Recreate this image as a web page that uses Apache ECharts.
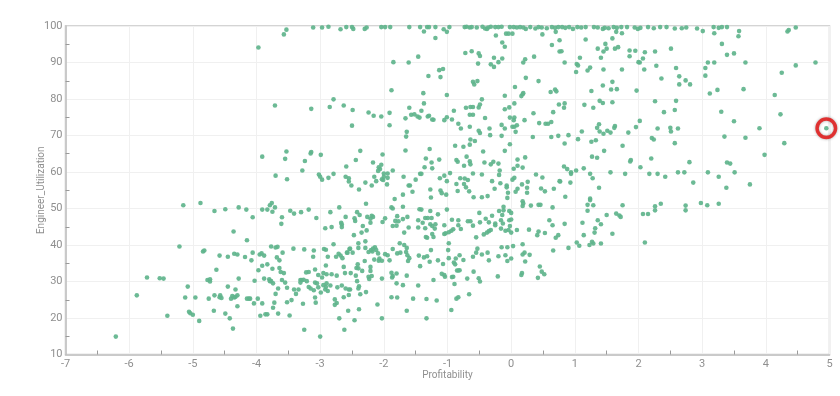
<!DOCTYPE html>
<html><head><meta charset="utf-8">
<style>html,body{margin:0;padding:0;background:#fff}#c{width:840px;height:396px}</style>
<script src="https://cdn.jsdelivr.net/npm/echarts@6/dist/echarts.min.js"></script>
</head><body><div id="c"></div>
<script>
const xTitle = 'Profitability';
const yTitle = 'Engineer_Utilization';
const highlighted = [[4.95,72]];
const pointsFarLeft = [
[-6.21,14.9],[-5.88,26.2],[-5.72,31.1],[-5.52,30.9],[-5.46,30.8],[-5.40,20.6],[-5.21,39.6],[-5.15,50.9],[-4.88,51.5],[-4.66,49.3],[-4.49,49.8],[-4.28,50.3],[-4.16,49.7],[-4.06,47.6],[-4.36,43.7],[-4.15,41.3],[-5.08,28.6],[-5.12,25.6],[-4.96,25.6],[-5.06,21.7],[-5.04,21.3],[-5.0,20.9],[-4.90,19.2],[-4.84,38.2],[-4.82,38.5],[-4.58,37.1],[-4.45,36.8],[-4.35,37.6],[-4.30,37.4],[-4.18,36.7],[-4.06,37.9],[-4.08,35.8],[-4.63,33.2],[-4.77,30.4],[-4.73,30.6],[-4.73,30.0],[-4.28,30.8],[-4.03,30.2],[-4.75,25.3],[-4.66,26.2],[-4.57,26.2],[-4.58,25.7],[-4.55,25.5],[-4.67,22.0],[-4.45,28.6],[-4.33,27.8],[-4.49,21.2],[-4.42,19.9],[-4.37,17.1],[-4.40,25.3],[-4.38,26.0],[-4.35,25.6],[-4.33,25.8],[-4.30,26.2],[-4.30,23.2],[-4.15,25.3],[-4.12,25.3],[-4.10,25.3],[-4.04,24.0],[-3.98,25.3],[-3.94,20.6],[-3.91,24.0],[-3.86,21.0],[-3.83,21.0],[-3.74,22.8],[-3.72,24.2],[-3.70,26.6],[-3.66,28.1],[-3.66,21.2],[-3.91,49.7],[-3.83,49.7],[-3.75,49.1],[-3.71,50.3],[-3.79,50.9],[-3.76,51.5],[-3.97,33.1],[-3.91,34.3],[-3.83,34.7],[-3.75,33.5],[-3.88,30.8],[-3.80,30.6],[-3.79,30.1],[-3.77,30.1],[-3.74,29.5],[-3.95,37.4],[-3.92,37.7],[-3.88,37.1],[-3.77,39.6],[-3.70,39.3],[-3.67,39.5],[-3.68,36.6],[-3.64,35.8],[-3.64,33.7],[-3.97,94.1],[-3.71,78.2],[-3.91,64.2],[-3.70,59.0]
];
const pointsLowerMiddle = [
[-3.47,49.4],[-3.41,48.6],[-3.30,49.0],[-3.18,49.7],[-2.70,50.3],[-2.28,51.3],[-3.60,47.6],[-3.61,45.8],[-3.06,47.4],[-2.84,49.0],[-2.60,47.7],[-2.92,44.6],[-2.82,44.9],[-2.67,46.1],[-2.66,45.6],[-2.66,44.9],[-2.46,47.3],[-2.45,46.6],[-2.42,49.0],[-2.38,48.2],[-2.33,45.2],[-2.27,44.0],[-2.35,43.4],[-2.47,42.7],[-2.26,47.7],[-2.21,47.2],[-2.19,48.0],[-2.17,47.7],[-2.21,46.1],[-2.02,46.3],[-1.98,47.3],[-1.88,50.3],[-1.86,50.0],[-1.70,50.5],[-1.79,47.9],[-1.82,46.6],[-1.77,46.5],[-1.86,45.2],[-1.80,45.3],[-1.70,47.1],[-1.63,47.7],[-1.61,44.8],[-1.68,43.4],[-1.44,49.8],[-1.41,49.7],[-1.27,49.3],[-1.15,48.4],[-1.01,49.7],[-1.46,46.8],[-1.39,46.1],[-1.35,47.4],[-1.31,47.4],[-1.25,47.4],[-1.46,44.8],[-1.35,44.6],[-1.27,45.7],[-1.24,45.2],[-1.19,45.7],[-1.20,44.5],[-1.34,42.2],[-1.32,42.0],[-1.24,43.0],[-1.22,42.2],[-1.05,45.4],[-0.93,46.9],[-0.83,46.8],[-0.83,45.4],[-0.79,44.4],[-0.91,44.3],[-0.94,43.9],[-0.98,43.5],[-1.03,43.2],[-1.05,43.0],[-0.68,46.5],[-0.64,46.5],[-0.60,45.3],[-0.50,48.8],[-0.49,46.2],[-0.55,42.1],[-0.40,47.2],[-0.35,46.2],[-0.30,48.0],[-0.25,45.9],[-0.25,45.4],[-0.43,42.9],[-0.38,43.4],[-0.35,43.8],[-0.32,44.1],[-0.19,49.3],[-0.12,50.5],[-0.12,49.5],[-0.14,48.2],[-0.16,46.8],[-0.13,45.9],[-0.16,44.5],[-0.09,43.9],[-0.04,44.1],[0,43.4],[-0.02,45.2],[-0.03,46.8],[0,47.0],[-0.03,49.3],[0,48.8],[0.09,44.1],[0.18,52.0],[0.19,51.4],[0.18,50.7],[0.31,50.8],[0.43,51.0],[0.46,51.0],[0.65,50.3],[0.60,46.8],[0.65,45.4],[0.28,44.2],[0.43,43.7],[0.41,42.7],[0.53,43.3],[0.74,42.7],[0.70,42.0],[0.66,38.5],
[-3.59,37.9],[-3.42,39.0],[-3.25,38.8],[-3.10,38.5],[-3.11,36.8],[-2.94,38.9],[-2.91,38.7],[-2.79,40.2],[-2.88,36.8],[-2.75,36.8],[-2.71,37.6],[-2.68,37.1],[-2.65,36.4],[-2.58,37.9],[-2.54,38.9],[-2.53,39.0],[-2.57,37.9],[-2.49,37.9],[-2.40,40.5],[-2.29,41.0],[-2.40,39.2],[-2.29,39.2],[-2.24,38.1],[-2.20,38.6],[-2.18,38.2],[-2.14,39.4],[-2.12,38.6],[-2.09,37.7],[-2.17,39.0],[-2.15,36.0],[-2.07,36.3],[-2.03,35.7],[-2.08,35.7],[-2.30,35.6],[-1.98,37.5],[-1.94,37.2],[-1.91,35.8],[-1.86,38.9],[-1.75,40.5],[-1.68,40.0],[-1.64,39.2],[-1.79,37.7],[-1.74,37.9],[-1.65,38.1],[-1.63,37.2],[-1.60,36.4],[-1.62,35.6],[-1.45,37.1],[-1.37,36.6],[-1.32,36.9],[-1.28,35.4],[-1.26,38.6],[-1.15,35.8],[-1.07,34.8],[-0.98,40.5],[-0.99,38.6],[-0.98,36.4],[-0.90,35.2],[-0.87,36.3],[-0.88,34.7],[-0.81,37.2],[-0.75,35.9],[-0.60,36.8],[-0.53,39.0],[-0.55,37.9],[-0.46,37.4],[-0.37,37.9],[-0.35,35.8],[-0.20,36.9],[-0.15,39.4],[-0.06,39.4],[0.03,39.7],[-0.09,37.2],[-0.06,35.6],[0,36.3],[0.18,40.2],[0.21,37.9],[0.18,37.4],[0.29,37.3],[0.22,35.5],[-1.43,34.2],
[-3.62,32.6],[-3.57,32.3],[-3.08,33.3],[-3.18,32.6],[-3.22,32.5],[-3.03,31.8],[-2.95,32.3],[-2.91,34.4],[-2.90,32.0],[-2.97,31.1],[-2.82,32.0],[-2.74,31.6],[-2.63,34.0],[-2.61,32.3],[-2.52,32.3],[-2.43,33.7],[-2.41,34.7],[-2.40,33.6],[-2.34,32.9],[-2.44,31.6],[-2.21,34.0],[-2.21,32.9],[-2.24,31.3],[-2.23,30.7],[-2.19,31.5],[-2.03,30.8],[-1.88,32.4],[-1.86,31.5],[-1.80,32.2],[-1.87,31.1],[-1.64,31.6],[-1.09,32.1],[-1.05,31.8],[-1.04,31.3],[-0.93,31.2],[-0.91,31.3],[-0.85,33.0],[-0.83,33.0],[-0.81,33.1],[-0.59,32.7],[-0.69,30.8],[-0.51,30.9],[-0.49,30.0],[-0.21,31.4],[0.17,32.3],[0.16,31.8],[0.45,34.1],[0.48,32.7],[0.52,32.0],[0.42,31.0],[-1.22,30.4],[-0.89,29.3],
[-3.55,29.7],[-3.60,30.4],[-3.52,28.3],[-3.41,27.8],[-3.34,27.8],[-3.38,26.6],[-3.45,24.9],[-3.52,24.3],[-3.27,23.9],[-3.31,30.4],[-3.29,30.4],[-3.26,30.5],[-3.31,29.7],[-3.21,30.1],[-3.18,28.5],[-3.15,28.1],[-3.10,27.6],[-3.03,28.4],[-3.08,29.7],[-3.05,29.5],[-2.99,27.0],[-2.92,27.8],[-2.90,29.5],[-2.84,28.9],[-2.91,28.5],[-2.95,29.0],[-2.88,27.4],[-3.08,25.6],[-3.07,24.2],[-3.48,20.7],[-2.77,25.1],[-2.74,24.1],[-2.77,23.6],[-2.63,25.7],[-2.55,26.3],[-2.55,27.8],[-2.60,28.1],[-2.53,27.8],[-2.73,28.4],[-2.66,28.9],[-2.42,30.1],[-2.39,28.7],[-2.40,28.1],[-2.37,26.5],[-2.28,27.1],[-2.10,23.7],[-2.56,22.0],[-2.39,22.4],[-2.70,19.9],[-2.46,19.4],[-2.03,19.9],[-3.25,16.8],[-3.0,14.9],[-2.62,16.8],[-1.88,25.7],[-1.79,25.6],[-1.80,29.5],[-1.70,29.0],[-1.54,25.3],[-1.33,25.2],[-1.17,24.8],[-1.46,28.9],[-1.64,22.0],[-1.33,19.9],[-0.94,22.2],[-0.86,25.3],[-0.83,25.7],[-0.66,26.5]
];
const pointsUpperMiddle = [
[-3.57,97.7],[-3.53,99.0],[-3.11,99.6],[-2.97,99.6],[-2.87,99.8],[-2.68,99.1],[-2.59,99.7],[-2.50,99.7],[-2.48,99.2],[-2.30,99.2],[-2.27,99.6],[-2.04,99.7],[-1.98,99.7],[-1.90,99.7],[-1.60,99.7],[-1.43,99.7],[-1.37,98.5],[-1.32,99.7],[-1.29,99.7],[-1.19,99.7],[-1.06,99.1],[-1.01,98.4],[-0.97,99.7],[-1.19,96.7],
[-0.73,99.7],[-0.70,99.8],[-0.65,99.6],[-0.62,99.7],[-0.54,99.6],[-0.45,99.8],[-0.41,99.3],[-0.38,99.2],[-0.36,99.6],[-0.32,99.8],[-0.25,99.7],[-0.20,99.7],[-0.15,99.8],[-0.02,99.7],[0.04,99.7],[0.09,99.6],[0.14,99.7],[0.19,99.6],[0.23,99.2],[0.30,99.7],[0.38,99.3],[0.43,99.7],[0.48,99.6],[0.56,99.4],[0.64,99.7],[0.69,99.5],[0.74,99.7],
[-0.24,97.4],[-0.08,97.9],[-0.04,97.9],[0.02,97.9],[-0.14,95.5],[-0.10,94.3],[0.49,97.7],[0.70,98.4],[0.76,96.1],[0.64,94.8],[-0.72,92.6],[-0.62,93.1],[-0.51,92.5],[-0.49,91.8],[-0.52,89.7],[-1.46,91.6],[-1.85,90.1],[-1.61,90.0],[-1.13,87.9],[-1.07,88.2],[-1.30,86.3],[-1.11,86.0],[-0.27,91.3],[-0.32,89.5],[-0.27,88.8],[-0.20,90.1],[-0.14,91.1],[0.22,90.9],[0.19,90.0],[0.36,91.6],[0.23,85.8],[0.43,84.9],[0.76,93.0],
[-0.60,84.7],[-0.58,84.0],[-0.53,84.9],[0.06,83.3],[0.62,81.9],[0.69,82.6],[0.71,82.1],[0.16,80.8],[0.18,81.3],[0.19,81.6],[-0.10,80.9],[-1.88,82.4],[-1.38,81.6],[-1.01,81.1],[-2.79,79.9],[-3.14,77.3],[-2.85,77.8],[-2.63,78.2],[-2.49,77.0],[-2.24,76.3],[-2.16,75.4],[-2.04,75.2],[-1.91,76.2],[-2.50,72.7],[-1.91,72.8],[-1.60,77.6],[-1.37,78.8],[-1.41,76.8],[-1.66,74.7],[-1.57,75.7],[-1.52,75.8],[-1.47,75.2],[-1.44,74.9],[-1.31,75.2],[-1.29,75.4],[-1.24,74.4],[-1.22,74.3],[-1.05,74.2],[-1.01,75.0],[-0.93,74.4],[-0.90,76.8],[-0.71,77.6],[-0.64,77.8],[-0.60,77.8],[-0.51,77.7],[-0.49,78.5],[-0.46,79.9],[-0.65,75.7],[-0.60,75.7],[-0.41,74.8],[-0.83,73.2],[-0.79,71.9],[-0.65,72.4],[-0.51,71.3],[-0.49,70.7],[-0.34,71.9],[-0.33,70.1],[-0.15,72.9],[-0.15,69.9],[-0.10,71.9],[-0.10,77.2],[-0.03,77.7],[0.05,78.8],[-0.02,74.9],[0.04,74.2],[0.05,74.9],[0.02,72.4],[0.05,72.4],[0.09,72.8],[0.07,71.0],[0.21,74.2],[0.35,76.1],[0.44,73.4],[0.54,73.2],[0.58,73.2],[0.63,73.7],[0.34,69.6],[0.63,69.6],[0.74,69.9],[0.66,76.4],[0.75,78.5],
[-1.64,71.0],[-1.65,69.7],[-1.66,65.9],[-1.28,66.3],[-0.88,67.2],[-0.75,66.9],[-0.65,67.5],[-0.64,68.9],[-0.57,68.5],[-0.44,65.6],[-0.02,67.6],[-0.10,65.8],[-3.53,65.6],[-3.55,63.6],[-3.15,65.1],[-3.14,65.5],[-3.24,63.0],[-2.99,64.7],[-3.28,60.4],[-3.52,58.0],[-2.37,65.8],[-2.44,63.3],[-2.59,61.5],[-2.17,62.6],[-2.02,64.8],[-2.04,62.0],[-2.08,61.3],[-2.06,60.8],[-2.09,60.3],[-1.86,60.4],[-2.0,59.6],[-1.94,59.6],[-2.0,58.7],[-1.94,58.4],[-2.03,58.0],[-2.01,57.8],[-2.12,57.5],[-2.15,58.7],[-2.19,56.3],[-2.29,57.1],[-2.39,55.2],[-1.95,56.6],[-3.02,59.3],[-3.0,58.7],[-2.97,57.9],[-2.87,58.4],[-2.79,59.5],[-2.60,58.7],[-2.55,58.3],[-2.55,57.4],[-2.51,56.3],
[-1.34,63.7],[-1.36,61.3],[-1.25,62.6],[-1.24,61.0],[-1.13,63.4],[-1.69,58.7],[-1.61,56.3],[-1.59,56.3],[-1.50,57.9],[-1.43,59.5],[-1.41,59.5],[-1.70,53.8],[-1.55,54.6],[-1.83,52.6],[-1.27,55.2],[-1.11,54.9],[-1.09,54.2],[-1.02,53.8],[-1.26,53.0],[-1.12,58.3],[-1.05,59.0],[-1.01,57.5],[-0.96,59.7],[-0.86,63.3],[-0.84,62.8],[-0.70,64.2],[-0.65,62.9],[-0.64,62.1],[-0.74,61.7],[-0.60,59.6],[-0.80,58.3],[-0.73,58.2],[-0.68,57.8],[-0.86,56.7],[-0.74,56.7],[-0.71,55.8],[-0.84,54.8],[-0.66,54.7],[-0.46,59.3],[-0.42,62.6],[-0.28,62.8],[-0.32,62.1],[-0.20,62.3],[-0.18,60.4],[-0.19,59.2],[-0.30,57.5],[-0.17,56.9],[-0.26,55.4],[-0.07,56.3],[-0.07,55.8],[-0.05,54.3],[-0.06,52.9],[-0.46,53.1],[-0.37,53.4],[-0.59,53.1],[0.04,60.9],[0.10,61.7],[0.10,63.4],[0.18,61.2],[0.22,64.0],[0.02,57.9],[0.05,58.4],[0.17,56.6],[0.26,57.3],[0.39,59.3],[0.49,58.5],[0.25,55.7],[0.25,54.3],[0.10,55.4],[0.07,54.6],[0.47,55.5],[0.53,54.7],[0.67,55.4],[0.76,57.5]
];
const pointsRight = [
[0.80,99.7],[0.85,99.5],[0.91,99.7],[0.97,99.2],[1.04,99.7],[1.10,99.6],[1.17,99.7],[1.30,99.7],[1.36,99.6],[1.44,99.2],[1.47,99.5],[1.53,99.4],[1.61,99.7],[1.66,99.5],[1.73,99.7],[1.82,99.7],[1.94,99.6],[1.99,99.2],[2.03,99.5],[2.15,99.7],[2.24,99.4],[2.34,99.7],[2.44,99.7],[2.57,99.3],[2.68,99.4],[2.75,99.6],[2.92,99.3],[3.18,99.7],[3.26,99.5],[3.31,99.7],[3.39,99.7],
[3.01,98.6],[3.19,98.0],[3.58,98.6],[3.57,97.2],[4.34,98.5],[4.36,98.9],[4.47,99.6],[1.65,98.4],[1.74,98.0],[1.59,96.6],[1.17,96.3],[1.48,95.1],[1.36,93.8],[1.50,93.8],[1.45,93.0],[1.63,93.8],[1.68,94.2],[0.79,93.1],[1.86,93.3],[1.95,93.2],[1.86,91.7],[2.10,92.8],[2.26,93.0],[2.07,91.1],[2.51,93.8],[1.41,91.3],[1.08,91.3],[3.31,95.1],[3.39,92.1],[3.50,92.5],
[0.84,90.0],[1.03,89.6],[1.05,89.2],[1.24,88.6],[1.20,87.8],[1.02,87.4],[1.45,88.1],[1.74,88.1],[2.0,90.1],[2.02,90.0],[2.09,88.1],[2.28,89.1],[2.59,88.5],[2.36,85.6],[2.64,86.2],[2.74,85.1],[2.64,84.0],[2.81,84.0],[3.09,90.0],[3.19,90.0],[3.05,88.5],[3.05,86.4],[3.68,90.0],[4.47,89.2],[4.25,87.2],[4.78,90.0],[1.59,84.7],[1.44,83.7],[1.26,82.2],[1.57,82.6],[1.66,82.7],[1.97,82.3],[3.24,82.5],[3.12,81.5],[3.65,82.7],[4.14,81.1],[1.39,79.5],[1.44,78.9],[1.59,79.1],[1.15,78.4],[1.29,77.6],[0.84,78.8],[0.83,77.6],[2.26,79.4],[2.59,79.5],[2.40,76.4],[2.57,77.0],[3.30,76.5],[4.23,75.8],[2.02,74.0],[1.96,72.3],[2.30,71.9],[2.50,72.1],[2.51,71.1],[2.62,71.9],[1.38,73.1],[1.35,72.1],[1.39,71.1],[1.63,72.6],[1.62,72.1],[1.51,71.3],[1.56,70.8],[1.45,70.5],[1.11,71.1],[0.90,70.1],[1.84,70.8],[3.50,73.9],[3.90,72.0],[4.95,72.0],
[3.35,69.7],[3.68,69.4],[4.29,67.9],[2.21,69.3],[2.24,68.9],[2.57,67.9],[1.05,69.0],[0.84,67.8],[1.26,68.3],[1.33,68.7],[1.75,67.2],[1.46,65.8],[1.27,64.2],[1.35,63.9],[1.88,63.3],[1.87,62.9],[2.2,63.7],[2.80,62.7],[3.98,64.7],[3.39,62.6],[3.44,62.3],[0.83,61.5],[0.88,60.8],[0.94,59.9],[0.94,59.5],[1.02,60.4],[1.14,61.0],[1.24,59.5],[1.28,58.3],[1.56,59.9],[1.79,59.5],[2.03,61.3],[2.17,59.5],[2.30,59.5],[2.42,58.7],[2.62,59.9],[2.72,59.9],[3.09,59.9],[3.26,58.7],[3.51,59.9],[2.86,57.1],[3.75,56.6],[3.38,55.7],[0.77,57.4],[0.93,57.1],[1.38,55.7],[0.85,53.2],[1.24,52.7],
[1.20,51.0],[1.29,50.9],[1.75,50.9],[1.24,52.3],[1.20,49.4],[2.26,50.6],[2.26,49.5],[2.35,51.3],[2.07,48.5],[2.15,48.5],[2.74,50.8],[2.74,49.5],[2.98,51.5],[3.08,50.9],[3.26,51.3],[1.50,48.2],[1.36,46.8],[1.65,48.6],[1.70,48.1],[1.72,47.7],[1.12,46.1],[0.84,45.8],[1.41,45.7],[1.32,44.6],[1.31,43.4],[1.14,42.7],[1.59,43.1],[1.03,40.7],[1.07,39.8],[0.90,39.2],[1.23,40.0],[1.27,40.9],[1.29,40.4],[1.41,40.4],[2.10,40.7]
];

const labelFont = {color:'#8f8f8f', fontFamily:'Roboto, "Liberation Sans", sans-serif', fontSize:11};
const chart = echarts.init(document.getElementById('c'), null, {renderer:'canvas'});
const base = {
  type:'value',
  axisLine:{show:true, onZero:false, lineStyle:{color:'#bdbdbd', width:1.5}},
  axisTick:{show:false, inside:true},
  minorTick:{show:true, splitNumber:2, length:4, lineStyle:{color:'#9a9a9a', width:1}},
  splitLine:{show:true, lineStyle:{color:'#f0f0f0', width:1}},
  nameLocation:'middle',
  nameMoveOverlap:false,
  nameTextStyle:{color:'#8f8f8f', fontFamily:labelFont.fontFamily, fontSize:10}
};
chart.setOption({
  animation:false,
  backgroundColor:'#fff',
  grid:{show:true, left:65.5, right:10.5, top:26, bottom:41.5, borderColor:'#c6c6c6', borderWidth:1.5, backgroundColor:'transparent'},
  xAxis:Object.assign({}, base, {min:-7, max:5, interval:1, name:xTitle, nameGap:16,
    axisLabel:Object.assign({margin:4, showMinLabel:true, showMaxLabel:true, hideOverlap:false}, labelFont)}),
  yAxis:Object.assign({}, base, {min:10, max:100, interval:10, name:yTitle, nameGap:19,
    axisLabel:Object.assign({margin:3, padding:[3,0,0,0], showMinLabel:true, showMaxLabel:true, hideOverlap:false}, labelFont)}),
  series:[
    {type:'scatter', clip:false, symbolSize:4.6, itemStyle:{color:'#5fb48c', opacity:0.92},
     data:[].concat(pointsFarLeft, pointsLowerMiddle, pointsUpperMiddle, pointsRight)},
    {type:'scatter', clip:false, symbolSize:18.5, z:5, silent:true,
     itemStyle:{color:'transparent', borderColor:'#e60d0d', borderWidth:3.5, shadowBlur:3, shadowColor:'rgba(0,0,0,0.4)'},
     data:highlighted}
  ]
});
</script></body></html>
